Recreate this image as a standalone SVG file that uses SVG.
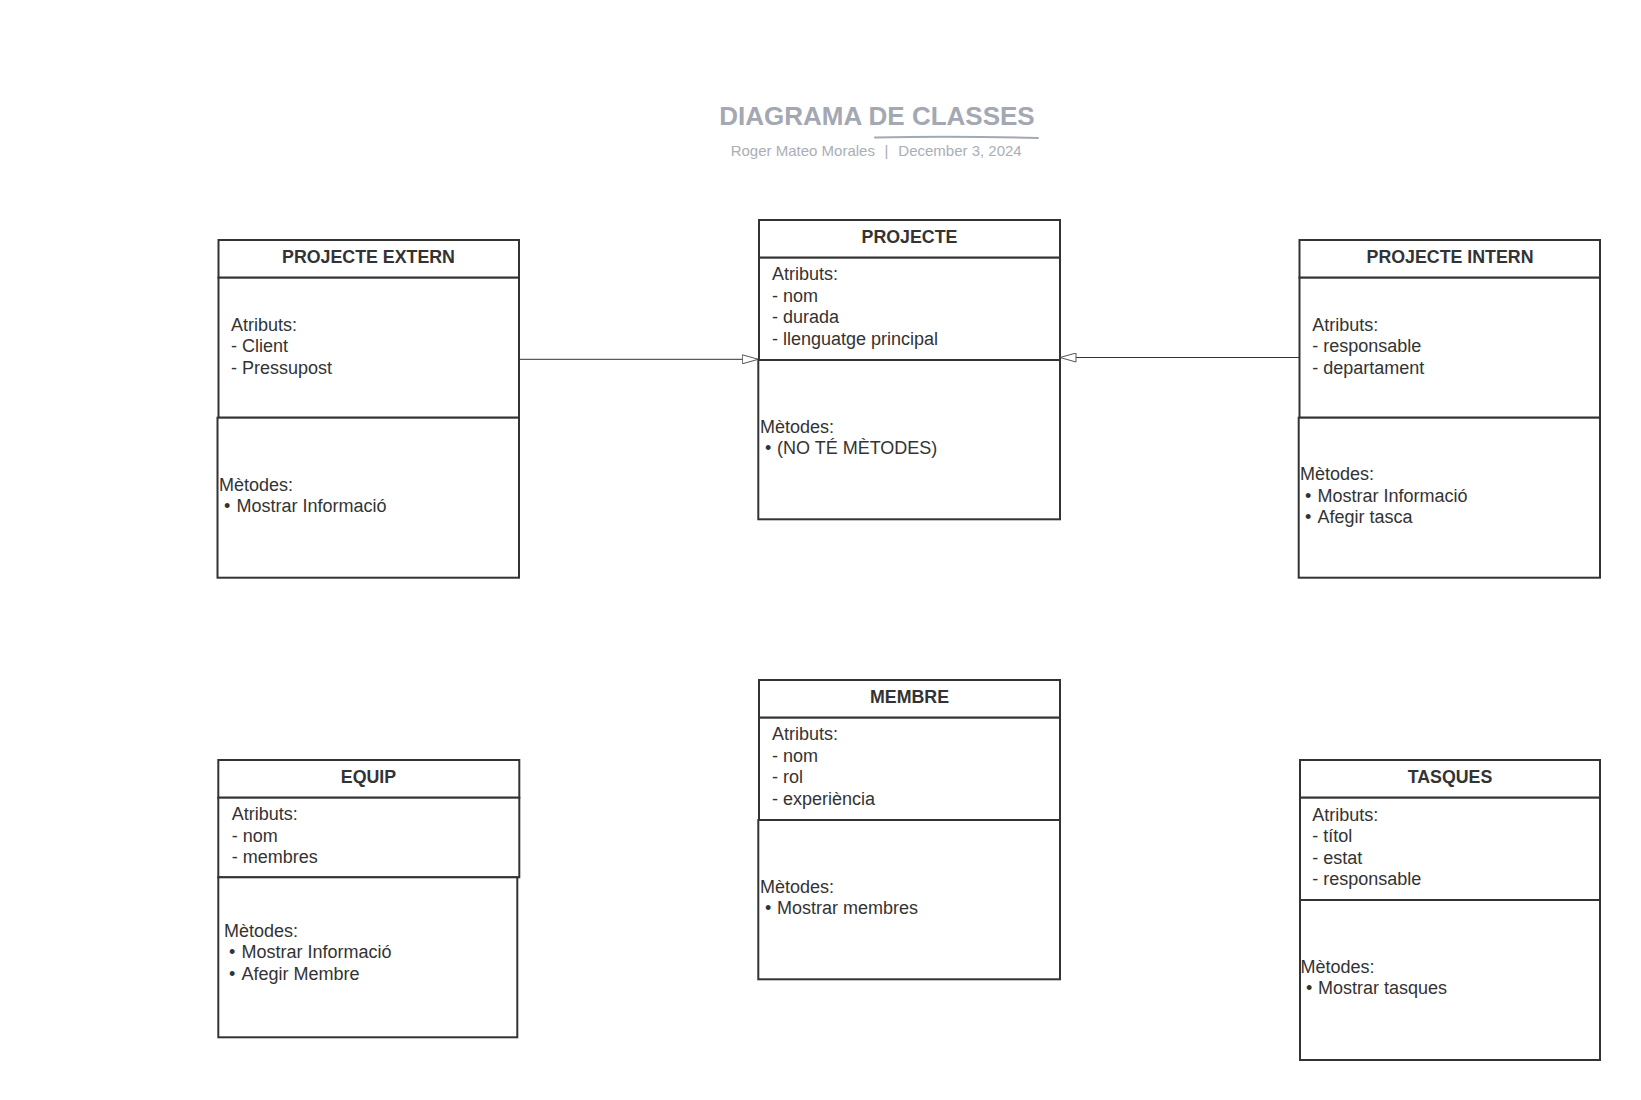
<svg xmlns="http://www.w3.org/2000/svg" width="1641" height="1100" viewBox="0 0 1641 1100">
<style>
.box{fill:#fff;stroke:#333;stroke-width:2}
.hd{font-family:"Liberation Sans",Arial,sans-serif;font-weight:bold;font-size:17.8px;fill:#333;text-anchor:middle}
.tx{font-family:"Liberation Sans",Arial,sans-serif;font-size:18px;fill:#333}
.conn{stroke:#333;stroke-width:1;fill:none}
.title{font-family:"Liberation Sans",Arial,sans-serif;font-weight:bold;font-size:26px;fill:#a3a8b2;text-anchor:middle}
.sub{font-family:"Liberation Sans",Arial,sans-serif;font-size:15px;fill:#a9aeb7}
</style>
<defs>
<marker id="tri" viewBox="0 0 17 10" refX="16.5" refY="5" markerWidth="17" markerHeight="10" markerUnits="userSpaceOnUse" orient="auto">
<path d="M0.5,0.5 L16.5,5 L0.5,9.5 Z" fill="#fff" stroke="#555" stroke-width="1"/>
</marker>
</defs>
<rect width="1641" height="1100" fill="#fff"/>
<g id="title">
<text class="title" x="877" y="125">DIAGRAMA DE CLASSES</text>
<path d="M875,137.5 Q955,136 1038,138" stroke="#a3a8b2" stroke-width="2" fill="none" stroke-linecap="round"/>
<text class="sub" y="156"><tspan x="730.7">Roger Mateo Morales</tspan><tspan x="884.5">|</tspan><tspan x="898.3">December 3, 2024</tspan></text>
</g>
<g id="connectors">
<line class="conn" x1="519" y1="359.3" x2="758.3" y2="359.3" marker-end="url(#tri)"/>
<line class="conn" x1="1299" y1="357.5" x2="1060" y2="357.5" marker-end="url(#tri)"/>
</g>
<g id="projecte-extern">
<rect class="box" x="218.5" y="240" width="300.5" height="37.7"/>
<rect class="box" x="218.5" y="277.7" width="300.5" height="140"/>
<rect class="box" x="217.5" y="417.7" width="301.5" height="160"/>
<text class="hd" x="368.5" y="263.3">PROJECTE EXTERN</text>
<text class="tx"><tspan x="231" y="330.5">Atributs:</tspan><tspan x="231" y="352">- Client</tspan><tspan x="231" y="373.5">- Pressupost</tspan></text>
<text class="tx"><tspan x="219" y="490.7">Mètodes:</tspan><tspan x="224" y="512.2">•</tspan><tspan x="236.5" y="512.2">Mostrar Informació</tspan></text>
</g>
<g id="projecte">
<rect class="box" x="759" y="220" width="301" height="37.7"/>
<rect class="box" x="759" y="257.7" width="301" height="102.3"/>
<rect class="box" x="758.3" y="360" width="301.7" height="159.3"/>
<text class="hd" x="909.5" y="243.3">PROJECTE</text>
<text class="tx"><tspan x="772" y="280">Atributs:</tspan><tspan x="772" y="301.5">- nom</tspan><tspan x="772" y="323">- durada</tspan><tspan x="772" y="344.5">- llenguatge principal</tspan></text>
<text class="tx"><tspan x="760" y="432.7">Mètodes:</tspan><tspan x="765" y="454.2">•</tspan><tspan x="777" y="454.2">(NO TÉ MÈTODES)</tspan></text>
</g>
<g id="projecte-intern">
<rect class="box" x="1299.5" y="240" width="300.5" height="37.7"/>
<rect class="box" x="1299.5" y="277.7" width="300.5" height="140"/>
<rect class="box" x="1298.7" y="417.7" width="301.3" height="160"/>
<text class="hd" x="1450" y="263.3">PROJECTE INTERN</text>
<text class="tx"><tspan x="1312.3" y="330.5">Atributs:</tspan><tspan x="1312.3" y="352">- responsable</tspan><tspan x="1312.3" y="373.5">- departament</tspan></text>
<text class="tx"><tspan x="1300" y="480">Mètodes:</tspan><tspan x="1305" y="501.5">•</tspan><tspan x="1317.5" y="501.5">Mostrar Informació</tspan><tspan x="1305" y="523">•</tspan><tspan x="1317.5" y="523">Afegir tasca</tspan></text>
</g>
<g id="equip">
<rect class="box" x="218.3" y="760" width="301" height="37.7"/>
<rect class="box" x="218.3" y="797.7" width="301" height="79.6"/>
<rect class="box" x="218.3" y="877.3" width="299" height="160"/>
<text class="hd" x="368.5" y="783.3">EQUIP</text>
<text class="tx"><tspan x="231.7" y="820">Atributs:</tspan><tspan x="231.7" y="841.5">- nom</tspan><tspan x="231.7" y="863">- membres</tspan></text>
<text class="tx"><tspan x="224" y="936.7">Mètodes:</tspan><tspan x="229" y="958.2">•</tspan><tspan x="241.5" y="958.2">Mostrar Informació</tspan><tspan x="229" y="979.7">•</tspan><tspan x="241.5" y="979.7">Afegir Membre</tspan></text>
</g>
<g id="membre">
<rect class="box" x="759" y="680" width="301" height="37.7"/>
<rect class="box" x="759" y="717.7" width="301" height="102.3"/>
<rect class="box" x="758.3" y="820" width="301.7" height="159.3"/>
<text class="hd" x="909.5" y="703.3">MEMBRE</text>
<text class="tx"><tspan x="772" y="740">Atributs:</tspan><tspan x="772" y="761.5">- nom</tspan><tspan x="772" y="783">- rol</tspan><tspan x="772" y="804.5">- experiència</tspan></text>
<text class="tx"><tspan x="760" y="892.7">Mètodes:</tspan><tspan x="765" y="914.2">•</tspan><tspan x="777" y="914.2">Mostrar membres</tspan></text>
</g>
<g id="tasques">
<rect class="box" x="1300" y="760" width="300" height="37.7"/>
<rect class="box" x="1300" y="797.7" width="300" height="102.3"/>
<rect class="box" x="1300" y="900" width="300" height="160"/>
<text class="hd" x="1450" y="783.3">TASQUES</text>
<text class="tx"><tspan x="1312.3" y="820.5">Atributs:</tspan><tspan x="1312.3" y="842">- títol</tspan><tspan x="1312.3" y="863.5">- estat</tspan><tspan x="1312.3" y="885">- responsable</tspan></text>
<text class="tx"><tspan x="1300.5" y="972.7">Mètodes:</tspan><tspan x="1306" y="994.2">•</tspan><tspan x="1318" y="994.2">Mostrar tasques</tspan></text>
</g>
</svg>
